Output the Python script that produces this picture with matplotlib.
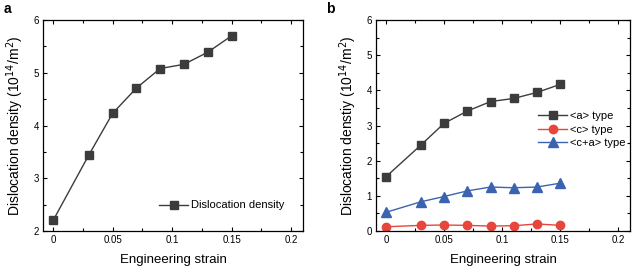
import matplotlib

matplotlib.use("Agg")
import matplotlib.pyplot as plt
from matplotlib.ticker import MultipleLocator

plt.rcParams["font.family"] = ["Liberation Sans", "DejaVu Sans"]

strain = [0, 0.03, 0.05, 0.07, 0.09, 0.11, 0.13, 0.15]
total_density = [2.2, 3.44, 4.23, 4.71, 5.08, 5.16, 5.39, 5.70]
a_type = [1.54, 2.44, 3.06, 3.41, 3.68, 3.77, 3.94, 4.17]
c_type = [0.12, 0.16, 0.17, 0.16, 0.14, 0.15, 0.20, 0.16]
ca_type = [0.53, 0.83, 0.98, 1.14, 1.25, 1.23, 1.25, 1.36]

GRAY = "#3c3c3c"
RED = "#e8453c"
BLUE = "#3a64b0"


def style_axes(ax, ylim, ylabel):
    ax.set_xlim(-0.0085, 0.21)
    ax.set_ylim(*ylim)
    ax.xaxis.set_major_locator(MultipleLocator(0.05))
    ax.xaxis.set_minor_locator(MultipleLocator(0.025))
    ax.yaxis.set_major_locator(MultipleLocator(1))
    ax.yaxis.set_minor_locator(MultipleLocator(0.5))
    ax.set_xticks([0, 0.05, 0.1, 0.15, 0.2])
    ax.set_xticklabels(["0", "0.05", "0.1", "0.15", "0.2"])
    ax.tick_params(which="both", direction="in", top=True, right=True,
                   labelsize=7, width=0.8, pad=3)
    ax.tick_params(which="major", length=3)
    ax.tick_params(which="minor", length=2)
    for s in ax.spines.values():
        s.set_linewidth(0.9)
    ax.set_xlabel("Engineering strain", fontsize=9.5, labelpad=6)
    ax.set_ylabel(ylabel, fontsize=10, labelpad=5)


fig = plt.figure(figsize=(6.4, 2.69), dpi=100)
ax1 = fig.add_axes([43 / 640, 1 - 231 / 269, 260 / 640, 211 / 269])
ax2 = fig.add_axes([376 / 640, 1 - 231 / 269, 254 / 640, 211 / 269])

ax1.plot(strain, total_density, "-s", color=GRAY, ms=6, lw=1,
         label="Dislocation density")
style_axes(ax1, (2, 6), "Dislocation density (10$^{14}$/m$^2$)")
ax1.legend(loc="lower right", frameon=False, fontsize=8,
           bbox_to_anchor=(0.965, 0.05), handlelength=2.6, handletextpad=0.2)

ax2.plot(strain, a_type, "-s", color=GRAY, ms=6, lw=1, label="<a> type")
ax2.plot(strain, c_type, "-o", color=RED, ms=6, lw=1, label="<c> type")
ax2.plot(strain, ca_type, "-^", color=BLUE, ms=6.5, lw=1, label="<c+a> type")
style_axes(ax2, (0, 6), "Dislocation denstiy (10$^{14}$/m$^2$)")
ax2.legend(loc="center left", frameon=False, fontsize=8,
           bbox_to_anchor=(0.6, 0.48), handlelength=2.6, handletextpad=0.2,
           labelspacing=0.3)

fig.text(4 / 640, 1 - 9 / 269, "a", fontsize=10, fontweight="bold", va="center")
fig.text(326 / 640, 1 - 9 / 269, "b", fontsize=10, fontweight="bold", va="center")

fig.savefig("out.png", dpi=100)
